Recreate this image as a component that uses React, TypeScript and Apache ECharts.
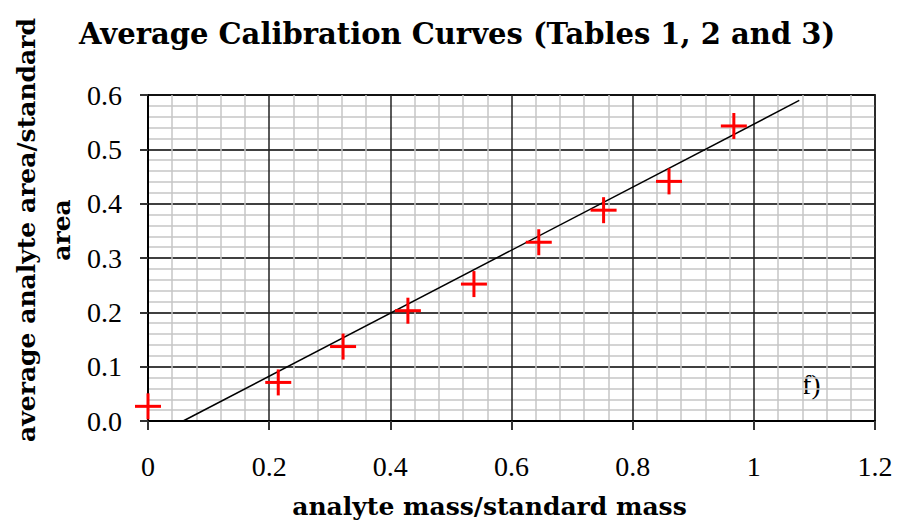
import React, { useEffect, useRef } from "react";
import * as echarts from "echarts";

const titleText = "Average Calibration Curves (Tables 1, 2 and 3)";
const xAxisName = "analyte mass/standard mass";
const yAxisName = "average analyte area/standard\narea";
const panelLabel = "f)";

const massRatio = [0, 0.215, 0.322, 0.429, 0.538, 0.645, 0.752, 0.86, 0.967];
const areaRatio = [0.027, 0.071, 0.137, 0.203, 0.252, 0.329, 0.388, 0.441, 0.543];

const fitX = [0.058, 1.075];
const fitY = [0, 0.59];

const SERIF = "'Liberation Serif', 'DejaVu Serif', serif";
const BOLD_SERIF = "'DejaVu Serif', 'Liberation Serif', serif";

export default function App() {
  const ref = useRef<HTMLDivElement>(null);

  useEffect(() => {
    if (!ref.current) return;
    const chart = echarts.init(ref.current, undefined, { renderer: "svg" });
    const points = massRatio.map((x, i) => [x, areaRatio[i]]);
    const fit = fitX.map((x, i) => [x, fitY[i]]);

    chart.setOption({
      animation: false,
      backgroundColor: "#ffffff",
      title: {
        text: titleText,
        left: 74,
        top: 14,
        textStyle: {
          fontFamily: BOLD_SERIF,
          fontWeight: "bold",
          fontSize: 29,
          color: "#000",
        },
      },
      grid: {
        left: 148,
        top: 95,
        width: 727,
        height: 328,
        show: true,
        borderColor: "#444",
        borderWidth: 2,
        containLabel: false,
      },
      xAxis: {
        type: "value",
        min: 0,
        max: 1.2,
        interval: 0.2,
        name: xAxisName,
        nameLocation: "middle",
        nameGap: 73,
        nameTextStyle: {
          fontFamily: BOLD_SERIF,
          fontWeight: "bold",
          fontSize: 25,
          color: "#000",
          padding: [0, 44, 0, 0],
        },
        axisLine: { show: true, onZero: false, lineStyle: { color: "#000", width: 2 } },
        axisTick: { show: true, length: 9, lineStyle: { color: "#333", width: 2 } },
        axisLabel: {
          margin: 31,
          fontFamily: SERIF,
          fontSize: 28,
          color: "#000",
          formatter: (v: number) => (Math.abs(v - Math.round(v)) < 1e-9 ? String(Math.round(v)) : v.toFixed(1)),
        },
        splitLine: { show: true, lineStyle: { color: "#222", width: 1.5 } },
        minorTick: { show: false, splitNumber: 5 },
        minorSplitLine: { show: true, lineStyle: { color: "#c6c6c6", width: 1.5 } },
      },
      yAxis: {
        type: "value",
        min: 0,
        max: 0.6,
        interval: 0.1,
        axisLine: { show: true, onZero: false, lineStyle: { color: "#000", width: 2 } },
        axisTick: { show: true, length: 8, lineStyle: { color: "#333", width: 2 } },
        axisLabel: {
          margin: 26,
          fontFamily: SERIF,
          fontSize: 28,
          color: "#000",
          formatter: (v: number) => v.toFixed(1),
        },
        splitLine: { show: true, lineStyle: { color: "#000", width: 1.5 } },
        minorTick: { show: false, splitNumber: 5 },
        minorSplitLine: { show: true, lineStyle: { color: "#c6c6c6", width: 1.5 } },
      },
      graphic: [
        {
          type: "text",
          x: 44,
          y: 230,
          rotation: Math.PI / 2,
          style: {
            text: yAxisName,
            align: "center",
            verticalAlign: "middle",
            fontFamily: BOLD_SERIF,
            fontWeight: "bold",
            fontSize: 25,
            lineHeight: 35,
            fill: "#000",
          },
        },
        {
          type: "text",
          x: 802,
          y: 384,
          style: {
            text: panelLabel,
            align: "left",
            verticalAlign: "middle",
            fontFamily: SERIF,
            fontSize: 28,
            fill: "#000",
          },
        },
      ],
      series: [
        {
          type: "line",
          data: fit,
          symbol: "none",
          lineStyle: { color: "#000", width: 1.5 },
          z: 3,
        },
        {
          type: "custom",
          data: points,
          z: 4,
          renderItem: (params: any, api: any) => {
            const p = api.coord([api.value(0), api.value(1)]);
            const h = 13;
            const style = { stroke: "#ff0000", lineWidth: 3 };
            return {
              type: "group",
              children: [
                { type: "line", shape: { x1: p[0] - h, y1: p[1], x2: p[0] + h, y2: p[1] }, style },
                { type: "line", shape: { x1: p[0], y1: p[1] - h, x2: p[0], y2: p[1] + h }, style },
              ],
            };
          },
        },
      ],
    });
    return () => chart.dispose();
  }, []);

  return (
    <div
      ref={ref}
      style={{ position: "absolute", left: 0, top: 0, width: 898, height: 524 }}
    />
  );
}
